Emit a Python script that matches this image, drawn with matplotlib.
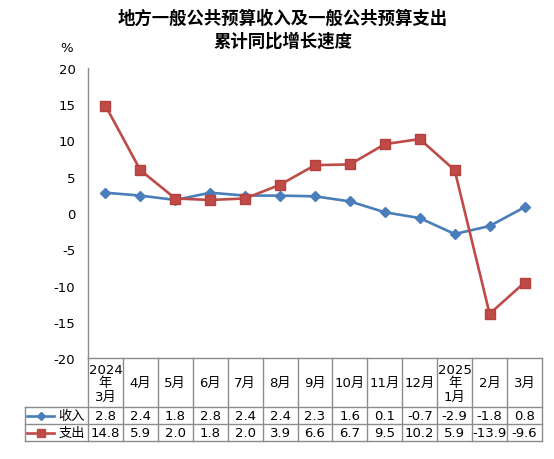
import matplotlib
matplotlib.use('Agg')
import matplotlib.pyplot as plt
import matplotlib.transforms as mtransforms
from matplotlib.lines import Line2D

plt.rcParams['font.family'] = ['DejaVu Sans', 'Noto Sans CJK SC']

# 数据
months = ['2024\n年\n3月', '4月', '5月', '6月', '7月', '8月', '9月',
          '10月', '11月', '12月', '2025\n年\n1月', '2月', '3月']
income = [2.8, 2.4, 1.8, 2.8, 2.4, 2.4, 2.3, 1.6, 0.1, -0.7, -2.9, -1.8, 0.8]
spend = [14.8, 5.9, 2.0, 1.8, 2.0, 3.9, 6.6, 6.7, 9.5, 10.2, 5.9, -13.9, -9.6]
series_names = ['收入', '支出']
yticks = [20, 15, 10, 5, 0, -5, -10, -15, -20]

blue = '#4A7EBB'
red = '#BE4B48'
grid_c = '#8C8C8C'

W, H = 554, 460
fig = plt.figure(figsize=(W / 100, H / 100), dpi=100)
ax_l, ax_r, ax_t, ax_b = 88, 542, 69, 359
ax = fig.add_axes([ax_l / W, 1 - ax_b / H, (ax_r - ax_l) / W, (ax_b - ax_t) / H])

x = list(range(len(months)))
ax.plot(x, income, color=blue, lw=1.9, marker='D', ms=5.5,
        mfc=blue, mec=blue, zorder=3)
ax.plot(x, spend, color=red, lw=1.9, marker='s', ms=6.5,
        mfc=red, mec='#B5403D', zorder=4)

ax.set_xlim(-0.5, len(months) - 0.5)
ax.set_ylim(-20, 20)
ax.set_yticks(yticks)
ax.set_yticklabels([str(v) for v in yticks], fontsize=9.5)
ax.tick_params(axis='y', length=0, pad=9)
ax.set_xticks([])
for s in ['top', 'right', 'bottom']:
    ax.spines[s].set_visible(False)
ax.spines['left'].set_color(grid_c)
ax.spines['left'].set_linewidth(1)

# 数据表
trans = mtransforms.blended_transform_factory(ax.transData, ax.transAxes)
ph = ax_b - ax_t
hdr_h = 49 / ph
row_h = 17 / ph
y_hdr_bot = -hdr_h
y_rows = [y_hdr_bot, y_hdr_bot - row_h, y_hdr_bot - 2 * row_h]
lab_left = (25 - ax_l) / (ax_r - ax_l)
axf = ax.transAxes

lkw = dict(color=grid_c, lw=1, clip_on=False)
# 横线
ax.plot([-0.5, len(months) - 0.5], [0, 0], transform=trans, **lkw)
for yy in y_rows:
    ax.plot([lab_left, 1], [yy, yy], transform=axf, **lkw)
# 竖线
for i in range(len(months) + 1):
    ax.plot([i - 0.5, i - 0.5], [0, y_rows[-1]], transform=trans, **lkw)
ax.plot([lab_left, lab_left], [y_rows[0], y_rows[-1]], transform=axf, **lkw)

for i, m in enumerate(months):
    ax.text(i, -hdr_h / 2, m, transform=trans, ha='center', va='center',
            fontsize=9.5, linespacing=1.05)
    ax.text(i, y_rows[0] - row_h / 2, f'{income[i]:.1f}', transform=trans,
            ha='center', va='center', fontsize=9.5)
    ax.text(i, y_rows[1] - row_h / 2, f'{spend[i]:.1f}', transform=trans,
            ha='center', va='center', fontsize=9.5)

# 图例行标签
for k, (name, col, mk, ms) in enumerate(zip(series_names, [blue, red],
                                             ['D', 's'], [4.5, 5.5])):
    yc = y_rows[k] - row_h / 2
    x0 = (27 - ax_l) / (ax_r - ax_l)
    x1 = (54 - ax_l) / (ax_r - ax_l)
    ax.add_line(Line2D([x0, x1], [yc, yc], transform=axf, color=col, lw=1.9,
                       clip_on=False))
    ax.add_line(Line2D([(x0 + x1) / 2], [yc], transform=axf, color=col,
                       marker=mk, ms=ms, clip_on=False))
    ax.text((85 - ax_l) / (ax_r - ax_l), yc, name, transform=axf,
            ha='right', va='center', fontsize=9.5)

fig.text(67 / W, 1 - 48 / H, '%', ha='center', va='center', fontsize=9.5)
fig.text(283 / W, 1 - 30 / H, '地方一般公共预算收入及一般公共预算支出\n累计同比增长速度',
         ha='center', va='center', fontsize=12.5, fontweight='bold',
         family=['Noto Sans CJK SC'], linespacing=1.3)

fig.savefig('out.png', dpi=100)
